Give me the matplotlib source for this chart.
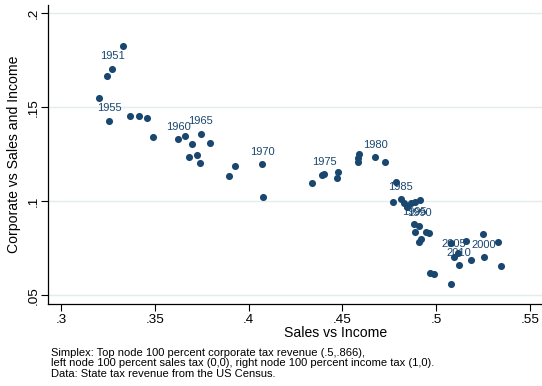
import numpy as np
import matplotlib
matplotlib.use('Agg')
import matplotlib.pyplot as plt

plt.rcParams['font.family'] = ['Liberation Sans', 'DejaVu Sans']

# Share of revenue along the simplex: sales vs income, corporate vs sales and income
sales_vs_income = [
    0.3329, 0.3273, 0.3247, 0.3204, 0.3257, 0.3368, 0.3416, 0.3457, 0.3490, 0.3625,
    0.3663, 0.3697, 0.3746, 0.3796, 0.3684, 0.3727, 0.3739, 0.3894, 0.3929, 0.4071,
    0.4077, 0.4336, 0.4390, 0.4402, 0.4478, 0.4470, 0.4587, 0.4585, 0.4585, 0.4674,
    0.4729, 0.4786, 0.4768, 0.4811, 0.4828, 0.4843, 0.4864, 0.4885, 0.4914, 0.4883,
    0.4910, 0.4889, 0.4946, 0.4960, 0.4917, 0.4906, 0.4967, 0.4988, 0.5077, 0.5157,
    0.5251, 0.5328, 0.5095, 0.5118, 0.5123, 0.5184, 0.5255, 0.5347, 0.5081,
]
corp_vs_sales_income = [
    0.1826, 0.1705, 0.1666, 0.1548, 0.1429, 0.1454, 0.1454, 0.1441, 0.1342, 0.1330,
    0.1349, 0.1305, 0.1358, 0.1312, 0.1237, 0.1245, 0.1202, 0.1136, 0.1189, 0.1197,
    0.1021, 0.1096, 0.1140, 0.1145, 0.1154, 0.1122, 0.1250, 0.1232, 0.1211, 0.1234,
    0.1207, 0.1104, 0.0995, 0.1011, 0.0989, 0.0971, 0.0989, 0.0998, 0.1007, 0.0879,
    0.0869, 0.0838, 0.0838, 0.0830, 0.0799, 0.0783, 0.0620, 0.0613, 0.0777, 0.0789,
    0.0824, 0.0785, 0.0705, 0.0723, 0.0661, 0.0688, 0.0702, 0.0657, 0.0559,
]
year_labels = [
    '', '1951', '', '', '1955', '', '', '', '', '1960',
    '', '', '1965', '', '', '', '', '', '', '1970',
    '', '', '', '1975', '', '', '', '', '', '1980',
    '', '', '', '1985', '', '', '', '', '', '1995',
    '1990', '', '', '', '', '', '', '', '', '',
    '', '', '2005', '', '2010', '', '2000', '', '',
]

x_ticks = [0.3, 0.35, 0.4, 0.45, 0.5, 0.55]
x_ticklabels = ['.3', '.35', '.4', '.45', '.5', '.55']
y_ticks = [0.05, 0.1, 0.15, 0.2]
y_ticklabels = ['.05', '.1', '.15', '.2']

navy = '#1a476f'
W, H = 542, 386

fig = plt.figure(figsize=(W / 100, H / 100), dpi=100)
# plot region runs past the right edge of the image
left, right, top, bottom = 48, 624, 5, 304
ax = fig.add_axes([left / W, 1 - bottom / H, (right - left) / W, (bottom - top) / H])

ax.scatter(sales_vs_income, corp_vs_sales_income, s=26, color=navy, zorder=3, linewidths=0)
for x, y, lab in zip(sales_vs_income, corp_vs_sales_income, year_labels):
    if lab:
        ax.annotate(lab, (x, y), xytext=(0, 9), textcoords='offset points',
                    ha='center', va='center', fontsize=8, color=navy, zorder=4)

ax.set_xlim(0.3 + (left - 61) / 1876, 0.3 + (right - 61) / 1876)
ax.set_ylim(0.2 - (bottom - 13.3) / 1880, 0.2 + (13.3 - top) / 1880)

ax.set_xticks(x_ticks)
ax.set_xticklabels(x_ticklabels)
ax.set_yticks(y_ticks)
ax.set_yticklabels(y_ticklabels, rotation=90, va='center')
ax.tick_params(axis='both', direction='out', length=5, width=0.8, labelsize=9.7, colors='black')
ax.tick_params(axis='x', pad=2)
ax.tick_params(axis='y', pad=1)

ax.grid(axis='y', color='#e3ecee', linewidth=1.0, zorder=0)
ax.set_axisbelow(True)
for side in ['top', 'right']:
    ax.spines[side].set_visible(False)
for side in ['left', 'bottom']:
    ax.spines[side].set_linewidth(0.9)

ax.set_xlabel('Sales vs Income', fontsize=10.1)
ax.xaxis.set_label_coords((336 - left) / (right - left), -(326 - bottom) / (bottom - top))
ax.set_ylabel('Corporate vs Sales and Income', fontsize=10.1)
ax.yaxis.set_label_coords(-(left - 21) / (right - left), 0.5)

note = ('Simplex: Top node 100 percent corporate tax revenue (.5,.866),\n'
        'left node 100 percent sales tax (0,0), right node 100 percent income tax (1,0).\n'
        'Data: State tax revenue from the US Census.')
fig.text(51 / W, 1 - 348 / H, note, fontsize=8.0, va='top', ha='left', linespacing=1.05)

fig.savefig('out.png', dpi=100)
